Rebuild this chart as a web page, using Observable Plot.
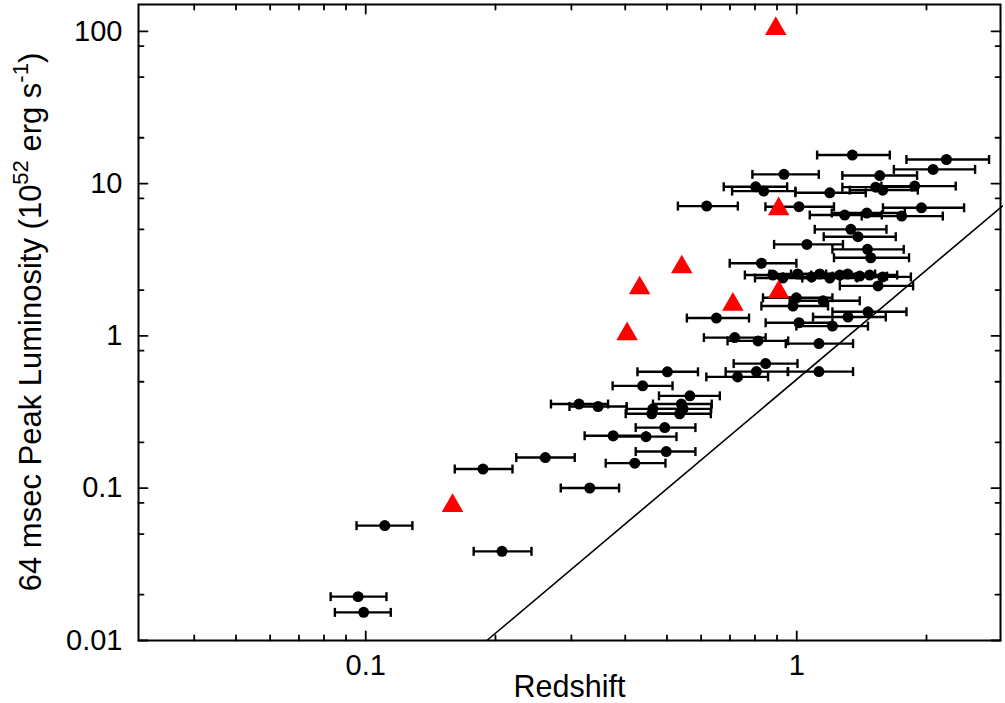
<!DOCTYPE html>
<html>
<head>
<meta charset="utf-8">
<script src="https://cdn.jsdelivr.net/npm/d3@7"></script>
<script src="https://cdn.jsdelivr.net/npm/@observablehq/plot@0.6"></script>
<style>
  html, body { margin: 0; padding: 0; background: #ffffff; }
</style>
</head>
<body>
<div id="chart"></div>
<script>
// ---- Data ----
const redshift   = [1.346, 2.225, 2.072, 0.934, 1.558, 0.803, 0.838, 1.193, 1.525, 1.583, 1.878, 0.618, 1.012, 1.947, 1.292, 1.454, 1.752, 1.335, 1.387, 1.056, 1.459, 1.485, 0.828,
                    0.880, 0.928, 1.005, 1.083, 1.131, 1.193, 1.259, 1.313, 1.400, 1.477, 1.583,
                    1.544, 0.998, 1.151, 0.980, 0.651, 1.463, 1.315, 1.012, 1.210, 0.718, 0.813, 1.126, 0.847, 0.806, 0.729, 1.126, 0.501, 0.439, 0.565,
                    0.3125, 0.346, 0.4636, 0.461, 0.540, 0.545, 0.535, 0.494, 0.375, 0.447, 0.498, 0.261, 0.4209, 0.1871, 0.3309, 0.1107, 0.2071, 0.0960, 0.0989];
const redshiftLo = [1.115, 1.797, 1.680, 0.789, 1.276, 0.677, 0.708, 0.993, 1.276, 1.327, 1.572, 0.530, 0.846, 1.585, 1.072, 1.206, 1.415, 1.101, 1.155, 0.886, 1.210, 1.220, 0.699,
                    0.758, 0.800, 0.865, 0.930, 0.970, 1.030, 1.080, 1.130, 1.210, 1.270, 1.370,
                    1.259, 0.835, 0.963, 0.828, 0.556, 1.210, 1.091, 0.847, 0.998, 0.609, 0.691, 0.943, 0.714, 0.684, 0.617, 0.955, 0.427, 0.374, 0.479,
                    0.269, 0.297, 0.403, 0.401, 0.464, 0.468, 0.456, 0.423, 0.322, 0.375, 0.423, 0.2235, 0.3604, 0.1609, 0.2834, 0.0952, 0.178, 0.0829, 0.0848];
const redshiftHi = [1.644, 2.794, 2.593, 1.125, 1.902, 0.950, 0.993, 1.446, 1.849, 1.909, 2.338, 0.730, 1.220, 2.445, 1.575, 1.781, 2.182, 1.615, 1.697, 1.280, 1.771, 1.822, 0.998,
                    1.020, 1.080, 1.170, 1.260, 1.310, 1.380, 1.460, 1.520, 1.620, 1.710, 1.840,
                    1.862, 1.210, 1.400, 1.182, 0.775, 1.797, 1.609, 1.210, 1.463, 0.847, 0.955, 1.351, 1.004, 0.953, 0.858, 1.351, 0.590, 0.515, 0.663,
                    0.365, 0.403, 0.535, 0.530, 0.635, 0.633, 0.632, 0.582, 0.447, 0.526, 0.582, 0.3054, 0.4959, 0.2190, 0.3870, 0.1283, 0.2424, 0.1117, 0.1143];
const luminosity = [15.4, 14.4, 12.4, 11.5, 11.3, 9.53, 8.93, 8.70, 9.48, 9.06, 9.63, 7.12, 7.05, 6.94, 6.22, 6.41, 6.12, 5.01, 4.48, 3.99, 3.70, 3.26, 3.00,
                    2.51, 2.40, 2.55, 2.44, 2.55, 2.40, 2.51, 2.55, 2.47, 2.51, 2.44,
                    2.13, 1.78, 1.70, 1.57, 1.31, 1.44, 1.33, 1.22, 1.16, 0.975, 0.927, 0.890, 0.658, 0.583, 0.538, 0.583, 0.581, 0.470, 0.404,
                    0.357, 0.344, 0.332, 0.308, 0.357, 0.332, 0.308, 0.250, 0.221, 0.218, 0.174, 0.159, 0.146, 0.1336, 0.1003, 0.0568, 0.0385, 0.0194, 0.0153];

const triRedshift   = [0.894, 0.908, 0.541, 0.432, 0.711, 0.908, 0.404, 0.159];
const triLuminosity = [104, 6.81, 2.83, 2.06, 1.61, 1.94, 1.03, 0.0768];

const thresholdRedshift   = [0.191, 3];
const thresholdLuminosity = [0.01, 7.12];

const xLabelTicks = [0.1, 1];
const xMinorTicks = [0.04, 0.05, 0.06, 0.07, 0.08, 0.09, 0.2, 0.3, 0.4, 0.5, 0.6, 0.7, 0.8, 0.9, 2];
const yLabelTicks = [0.01, 0.1, 1, 10, 100];
const yMinorTicks = [0.02, 0.05, 0.08, 0.2, 0.5, 0.8, 2, 5, 8, 20, 50, 80];

const xTitle = "Redshift";
const yTitleParts = ["64 msec Peak Luminosity (10", "52", " erg s", "-1", ")"];

// ---- Build tables ----
const points = redshift.map((z, i) => ({z, lo: redshiftLo[i], hi: redshiftHi[i], L: luminosity[i]}));
const tris = triRedshift.map((z, i) => ({z, L: triLuminosity[i]}));
const threshold = thresholdRedshift.map((z, i) => ({z, L: thresholdLuminosity[i]}));

const tickShape = {draw(context, l) { context.moveTo(0, 0); context.lineTo(0, -l); }};
const capSymbol = {draw(context) { context.moveTo(0, -4.5); context.lineTo(0, 4.5); }};

function xTicks(values, len) {
  return [
    Plot.vector(values, {x: d => d, frameAnchor: "bottom", length: len, rotate: 0, anchor: "start", shape: tickShape, stroke: "black", strokeWidth: 1.8}),
    Plot.vector(values, {x: d => d, frameAnchor: "top", length: len, rotate: 180, anchor: "start", shape: tickShape, stroke: "black", strokeWidth: 1.8})
  ];
}
function yTicks(values, len) {
  return [
    Plot.vector(values, {y: d => d, frameAnchor: "left", length: len, rotate: 90, anchor: "start", shape: tickShape, stroke: "black", strokeWidth: 1.8}),
    Plot.vector(values, {y: d => d, frameAnchor: "right", length: len, rotate: -90, anchor: "start", shape: tickShape, stroke: "black", strokeWidth: 1.8})
  ];
}

const FONT = "'Liberation Sans', Arial, Helvetica, sans-serif";

const plot = Plot.plot({
  width: 1005,
  height: 703,
  marginLeft: 138,
  marginRight: 5,
  marginTop: 4,
  marginBottom: 63,
  x: {type: "log", domain: [0.0297, 2.97]},
  y: {type: "log", domain: [0.01, 150]},
  style: {fontFamily: FONT, fontSize: "29px", background: "#ffffff", color: "black"},
  marks: [
    Plot.line(threshold, {x: "z", y: "L", stroke: "black", strokeWidth: 1.6}),
    Plot.ruleY(points, {y: "L", x1: "lo", x2: "hi", stroke: "black", strokeWidth: 2.4}),
    Plot.dot(points, {x: "lo", y: "L", symbol: capSymbol, r: 4, fill: "none", stroke: "black", strokeWidth: 2.4}),
    Plot.dot(points, {x: "hi", y: "L", symbol: capSymbol, r: 4, fill: "none", stroke: "black", strokeWidth: 2.4}),
    Plot.dot(points, {x: "z", y: "L", r: 5.5, fill: "black", stroke: "none"}),
    Plot.dot(tris, {x: "z", y: "L", symbol: "triangle", r: 8, fill: "#ff0000", stroke: "none"}),
    Plot.frame({stroke: "black", strokeWidth: 2}),
    ...xTicks(xLabelTicks, 9),
    ...xTicks(xMinorTicks, 5),
    ...yTicks(yLabelTicks, 9),
    ...yTicks(yMinorTicks, 5),
    Plot.axisX({ticks: xLabelTicks, anchor: "bottom", tickSize: 0, tickPadding: 14, tickFormat: d => String(d), label: null, fontSize: 29}),
    Plot.axisY({ticks: yLabelTicks, anchor: "left", tickSize: 0, tickPadding: 16, tickFormat: d => String(d), label: null, fontSize: 29}),
    Plot.text([xTitle], {frameAnchor: "bottom", dy: 56, text: d => d, fontSize: 30.5, fill: "black"})
  ]
});

// y-axis title with superscripts (real text)
const svg = d3.select(plot);
const t = svg.append("text")
  .attr("transform", "translate(41,322) rotate(-90)")
  .attr("text-anchor", "middle")
  .attr("font-family", FONT)
  .attr("font-size", 31)
  .attr("fill", "black");
t.append("tspan").text(yTitleParts[0]);
t.append("tspan").attr("dy", -13).attr("font-size", 22).text(yTitleParts[1]);
t.append("tspan").attr("dy", 13).attr("font-size", 31).text(yTitleParts[2]);
t.append("tspan").attr("dy", -13).attr("font-size", 22).text(yTitleParts[3]);
t.append("tspan").attr("dy", 13).attr("font-size", 31).text(yTitleParts[4]);

document.getElementById("chart").appendChild(plot);
</script>
</body>
</html>
